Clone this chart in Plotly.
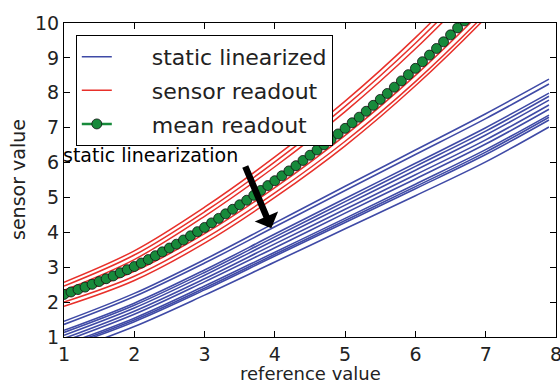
import plotly.graph_objects as go

# ---- data ----
knots = [1, 2, 3, 4, 5, 6, 7, 7.9]

static_linearized = [
    [1.45, 2.25, 3.22, 4.27, 5.32, 6.36, 7.40, 8.39],
    [1.36, 2.16, 3.12, 4.16, 5.20, 6.23, 7.26, 8.25],
    [1.19, 1.97, 2.92, 3.95, 4.97, 5.98, 7.00, 7.99],
    [1.13, 1.91, 2.85, 3.87, 4.88, 5.89, 6.90, 7.90],
    [1.05, 1.83, 2.77, 3.78, 4.78, 5.78, 6.79, 7.79],
    [0.96, 1.74, 2.67, 3.67, 4.66, 5.65, 6.65, 7.65],
    [0.88, 1.65, 2.58, 3.56, 4.55, 5.53, 6.53, 7.53],
    [0.78, 1.54, 2.46, 3.43, 4.40, 5.38, 6.37, 7.36],
    [0.73, 1.49, 2.40, 3.37, 4.34, 5.31, 6.30, 7.30],
    [0.69, 1.44, 2.35, 3.32, 4.28, 5.25, 6.23, 7.22],
    [0.55, 1.30, 2.20, 3.15, 4.10, 5.05, 6.02, 7.02],
]

sensor_readout = [
    [2.57, 3.47, 4.72, 6.16, 7.76, 9.58, 11.63, 13.60],
    [2.46, 3.35, 4.59, 6.02, 7.61, 9.42, 11.45, 13.40],
    [2.34, 3.22, 4.46, 5.88, 7.46, 9.26, 11.29, 13.25],
    [2.12, 2.88, 3.96, 5.28, 6.78, 8.50, 10.45, 12.40],
    [2.00, 2.74, 3.82, 5.13, 6.61, 8.32, 10.27, 12.20],
    [1.88, 2.62, 3.69, 5.00, 6.48, 8.20, 10.15, 12.10],
]

mean_x = [1.0, 1.1, 1.2, 1.3, 1.4, 1.5, 1.6, 1.7, 1.8, 1.9,
          2.0, 2.1, 2.2, 2.3, 2.4, 2.5, 2.6, 2.7, 2.8, 2.9,
          3.0, 3.1, 3.2, 3.3, 3.4, 3.5, 3.6, 3.7, 3.8, 3.9,
          4.0, 4.1, 4.2, 4.3, 4.4, 4.5, 4.6, 4.7, 4.8, 4.9,
          5.0, 5.1, 5.2, 5.3, 5.4, 5.5, 5.6, 5.7, 5.8, 5.9,
          6.0, 6.1, 6.2, 6.3, 6.4, 6.5, 6.6, 6.7, 6.8, 6.9]
mean_readout = [2.22, 2.29, 2.36, 2.43, 2.51, 2.59, 2.67, 2.75, 2.84, 2.93,
                3.02, 3.12, 3.22, 3.33, 3.44, 3.55, 3.66, 3.78, 3.90, 4.02,
                4.14, 4.27, 4.40, 4.53, 4.66, 4.79, 4.92, 5.06, 5.20, 5.34,
                5.48, 5.62, 5.76, 5.91, 6.06, 6.21, 6.36, 6.51, 6.66, 6.82,
                6.98, 7.14, 7.30, 7.47, 7.64, 7.81, 7.98, 8.16, 8.34, 8.52,
                8.70, 8.89, 9.08, 9.27, 9.46, 9.66, 9.86, 10.06, 10.26, 10.46]

x_ticks = [1, 2, 3, 4, 5, 6, 7, 8]
y_ticks = [1, 2, 3, 4, 5, 6, 7, 8, 9, 10]

arrow_head = (3.95, 4.12)
arrow_tail = (3.57, 5.93)

BLUE = "#3f4aa6"
RED = "#e8302a"
GREEN = "#178a3b"
FONT = "DejaVu Sans"
TXT = "#222222"
PAD = "\u00a0\u00a0\u00a0\u00a0\u00a0"

fig = go.Figure()

for i, ys in enumerate(static_linearized):
    fig.add_trace(go.Scatter(
        x=knots, y=ys, mode="lines", line=dict(color=BLUE, width=1.6, shape="spline"),
        name=PAD + "static linearized", legendgroup="b", showlegend=(i == 0)))

for i, ys in enumerate(sensor_readout):
    fig.add_trace(go.Scatter(
        x=knots, y=ys, mode="lines", line=dict(color=RED, width=1.5, shape="spline"),
        name=PAD + "sensor readout", legendgroup="r", showlegend=(i == 0)))

fig.add_trace(go.Scatter(
    x=mean_x, y=mean_readout, mode="lines+markers",
    line=dict(color=GREEN, width=2.5),
    marker=dict(size=10, color=GREEN, line=dict(color="#111111", width=0.8)),
    name=PAD + "mean readout", legendgroup="g"))

fig.add_annotation(
    x=arrow_head[0], y=arrow_head[1], ax=arrow_tail[0], ay=arrow_tail[1],
    xref="x", yref="y", axref="x", ayref="y", text="",
    showarrow=True, arrowhead=1, arrowsize=0.65, arrowwidth=6.5, arrowcolor="black",
    standoff=0, startstandoff=0)

fig.add_annotation(
    x=1.0, y=6.21, xref="x", yref="y", text="static linearization",
    showarrow=False, xanchor="left", yanchor="middle", xshift=-3,
    font=dict(family=FONT, size=19, color="black"))

# axis titles
fig.add_annotation(
    x=0.5, y=0, xref="paper", yref="paper", text="reference value",
    showarrow=False, xanchor="center", yanchor="top", yshift=-24,
    font=dict(family=FONT, size=18, color=TXT))
fig.add_annotation(
    x=0, y=0.5, xref="paper", yref="paper", text="sensor value", textangle=-90,
    showarrow=False, xanchor="center", yanchor="middle", xshift=-46,
    font=dict(family=FONT, size=19, color=TXT))

axis_common = dict(
    showgrid=False, zeroline=False, showline=True, linecolor="black", linewidth=1,
    mirror="allticks", ticks="inside", ticklen=6, tickcolor="black", tickwidth=1,
    tickfont=dict(family=FONT, size=19, color=TXT), automargin=False,
    ticklabeloverflow="allow")

fig.update_xaxes(range=[1, 8], tickvals=x_ticks, ticktext=[str(v) for v in x_ticks],
                 **axis_common)
fig.update_yaxes(range=[1, 10], tickvals=y_ticks, ticktext=[str(v) for v in y_ticks],
                 **axis_common)

fig.update_layout(
    width=560, height=383,
    margin=dict(l=64, r=4, t=23, b=46),
    paper_bgcolor="white", plot_bgcolor="white",
    font=dict(family=FONT, color=TXT),
    legend=dict(x=0.024, y=0.962, xanchor="left", yanchor="top",
                bordercolor="black", borderwidth=1, bgcolor="white",
                font=dict(family=FONT, size=22, color=TXT),
                traceorder="grouped", tracegroupgap=2),
)

fig.write_html("out.html")
